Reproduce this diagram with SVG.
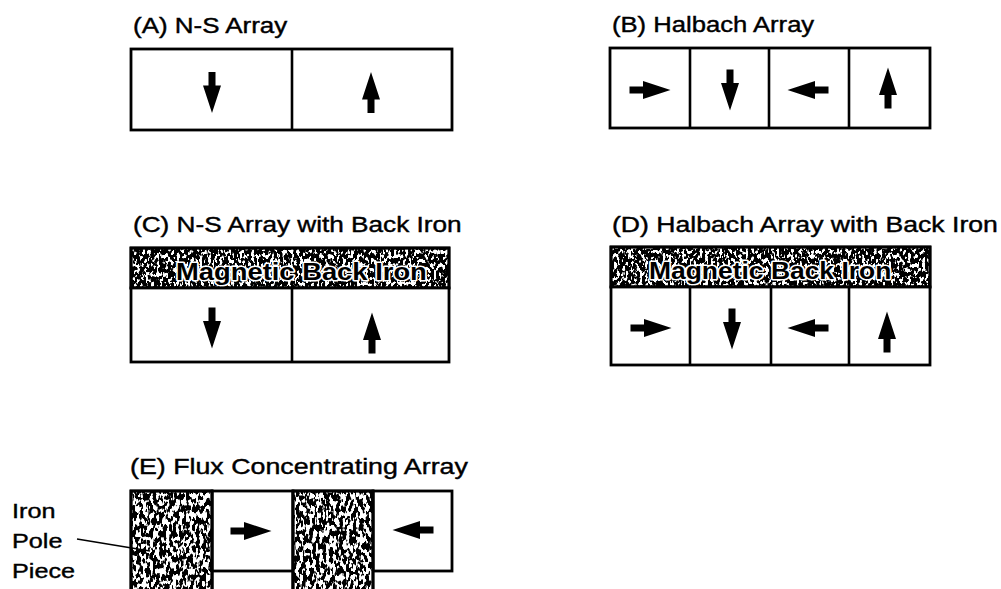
<svg xmlns="http://www.w3.org/2000/svg" xmlns:xlink="http://www.w3.org/1999/xlink" width="1001" height="589" viewBox="0 0 1001 589">
<style>
.title{font-family:"Liberation Sans",Arial,sans-serif;font-size:21px;fill:#000;stroke:#000;stroke-width:0.4}
.t22{font-size:22px}
.box{fill:#fff;stroke:#000;stroke-width:2.8}
.edge{fill:none;stroke:#000;stroke-width:2.8}
.div{stroke:#000;stroke-width:2.6}
.band{font-family:"Liberation Sans",Arial,sans-serif;font-weight:bold;font-size:23px;fill:#000;stroke:#fff;stroke-width:3;paint-order:stroke;stroke-linejoin:round}
.arr{fill:#000}
.lead{stroke:#000;stroke-width:1.6;fill:none}
</style>
<defs>
<path id="arr" d="M-3.5,-20.5 L3.5,-20.5 L3.5,-7 L9,-7 L0,20.5 L-9,-7 L-3.5,-7 Z"/>
<filter id="grainDark" x="0" y="0" width="1" height="1">
<feTurbulence type="fractalNoise" baseFrequency="0.35 0.22" numOctaves="2" seed="4"/>
<feColorMatrix type="matrix" values="0 0 0 0 0  0 0 0 0 0  0 0 0 0 0  -16 0 0 0 9.3"/>
<feComposite in2="SourceAlpha" operator="in"/>
</filter>
<filter id="grainMid" x="0" y="0" width="1" height="1">
<feTurbulence type="fractalNoise" baseFrequency="0.3 0.16" numOctaves="2" seed="9"/>
<feColorMatrix type="matrix" values="0 0 0 0 0  0 0 0 0 0  0 0 0 0 0  -16 0 0 0 8.7"/>
<feComposite in2="SourceAlpha" operator="in"/>
</filter>
</defs>
<rect width="1001" height="589" fill="#fff"/>

<g id="panelA">
<text class="title t22" transform="translate(133,33) scale(1.18,1)">(A) N-S Array</text>
<rect class="box" x="131" y="49" width="321" height="81"/>
<line class="div" x1="292" y1="49" x2="292" y2="130"/>
<use href="#arr" class="arr" transform="translate(212,92.5)"/>
<use href="#arr" class="arr" transform="translate(371,92.5) rotate(180)"/>
</g>

<g id="panelB">
<text class="title t22" transform="translate(612,32) scale(1.165,1)">(B) Halbach Array</text>
<rect class="box" x="610" y="48" width="320" height="80"/>
<line class="div" x1="690" y1="48" x2="690" y2="128"/>
<line class="div" x1="769" y1="48" x2="769" y2="128"/>
<line class="div" x1="849" y1="48" x2="849" y2="128"/>
<use href="#arr" class="arr" transform="translate(650,90) rotate(-90)"/>
<use href="#arr" class="arr" transform="translate(730,90)"/>
<use href="#arr" class="arr" transform="translate(808,90) rotate(90)"/>
<use href="#arr" class="arr" transform="translate(888,88) rotate(180)"/>
</g>

<g id="panelC">
<text class="title t22" transform="translate(133,232) scale(1.19,1)">(C) N-S Array with Back Iron</text>
<rect class="box" x="131" y="248" width="318" height="40"/>
<rect x="131" y="248" width="318" height="40" fill="#000" filter="url(#grainDark)"/>
<rect class="edge" x="131" y="248" width="318" height="40"/>
<text class="band" transform="translate(176,280) scale(1.19,1)">Magnetic Back Iron</text>
<rect class="box" x="131" y="288" width="318" height="74"/>
<line class="div" x1="292" y1="288" x2="292" y2="362"/>
<use href="#arr" class="arr" transform="translate(212,328)"/>
<use href="#arr" class="arr" transform="translate(372,333) rotate(180)"/>
</g>

<g id="panelD">
<text class="title t22" transform="translate(612,232) scale(1.21,1)">(D) Halbach Array with Back Iron</text>
<rect class="box" x="611" y="247" width="319" height="40"/>
<rect x="611" y="247" width="319" height="40" fill="#000" filter="url(#grainDark)"/>
<rect class="edge" x="611" y="247" width="319" height="40"/>
<text class="band" transform="translate(649,279) scale(1.15,1)">Magnetic Back Iron</text>
<rect class="box" x="611" y="287" width="319" height="78"/>
<line class="div" x1="690" y1="287" x2="690" y2="365"/>
<line class="div" x1="771" y1="287" x2="771" y2="365"/>
<line class="div" x1="849" y1="287" x2="849" y2="365"/>
<use href="#arr" class="arr" transform="translate(651,328) rotate(-90)"/>
<use href="#arr" class="arr" transform="translate(732,329)"/>
<use href="#arr" class="arr" transform="translate(808,328) rotate(90)"/>
<use href="#arr" class="arr" transform="translate(887,332) rotate(180)"/>
</g>

<g id="panelE">
<text class="title t22" transform="translate(130,474) scale(1.218,1)">(E) Flux Concentrating Array</text>
<rect class="box" x="212" y="491" width="81" height="80"/>
<rect class="box" x="373" y="491" width="79" height="80"/>
<line class="div" x1="212" y1="571" x2="212" y2="595"/>
<line class="div" x1="293" y1="571" x2="293" y2="595"/>
<use href="#arr" class="arr" transform="translate(251,531) rotate(-90)"/>
<use href="#arr" class="arr" transform="translate(413,530) rotate(90)"/>
</g>

<g id="ironPole1">
<rect class="box" x="131" y="491" width="81" height="110"/>
<rect x="131" y="491" width="81" height="110" fill="#000" filter="url(#grainMid)"/>
<rect class="edge" x="131" y="491" width="81" height="110"/>
</g>

<g id="ironPole2">
<rect class="box" x="293" y="491" width="80" height="110"/>
<rect x="293" y="491" width="80" height="110" fill="#000" filter="url(#grainMid)"/>
<rect class="edge" x="293" y="491" width="80" height="110"/>
</g>

<g id="labelIronPole">
<text class="title" transform="translate(12,518) scale(1.2,1)">Iron</text>
<text class="title" transform="translate(12,548) scale(1.2,1)">Pole</text>
<text class="title" transform="translate(12,578) scale(1.2,1)">Piece</text>
</g>

<g id="connectors">
<line class="lead" x1="77" y1="539" x2="150" y2="551"/>
</g>
</svg>
